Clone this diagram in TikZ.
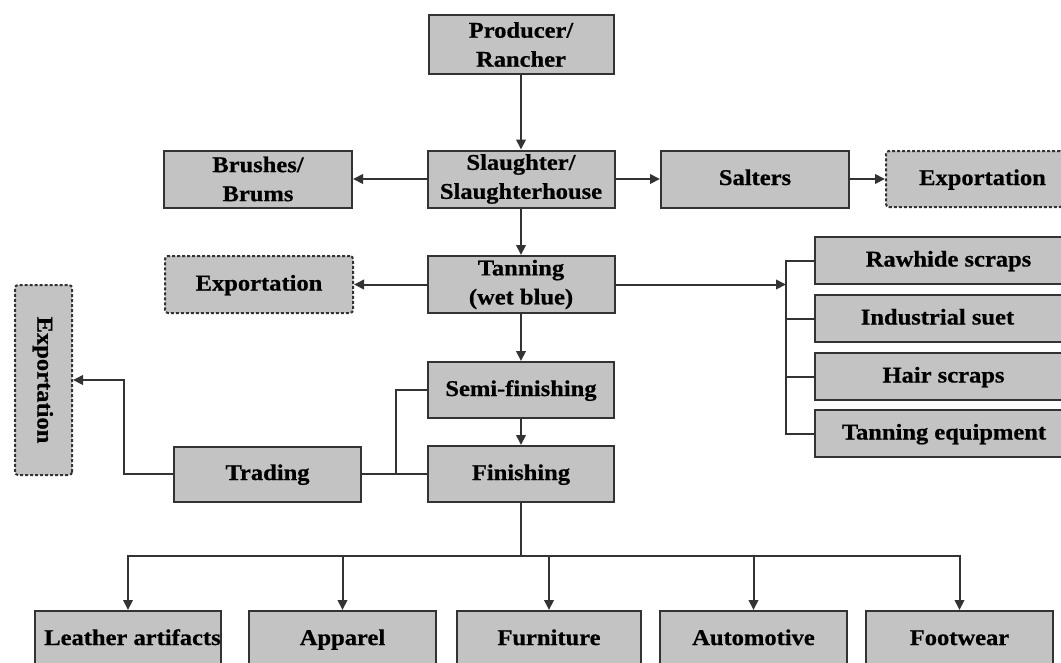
\documentclass[tikz,border=0pt]{standalone}
\usepackage{fontspec}
\setmainfont[FakeStretch=1.09,BoldFeatures={FakeBold=0.6}]{Liberation Serif}
\usetikzlibrary{arrows.meta}
\definecolor{boxfill}{HTML}{C3C3C3}
\definecolor{edge}{HTML}{333333}
\tikzset{
  base/.style={rectangle, fill=boxfill, draw=edge, line width=2pt, inner sep=0pt,
    align=center, font=\fontsize{22.5}{29}\selectfont\bfseries},
  solidbox/.style={base},
  one/.style={text height=17pt, text depth=5pt},
  dashbox/.style={base, dash pattern=on 3pt off 2pt, rounded corners=3pt},
  conn/.style={draw=edge, line width=2pt},
  arr/.style={conn, -{Triangle[length=10pt,width=9.5pt]}},
}
\begin{document}
\begin{tikzpicture}[x=1pt,y=-1pt]
\useasboundingbox (0,0) rectangle (1061,662);
% nodes
\node[solidbox, minimum width=185pt, minimum height=59pt] (prod) at (521,44.5) {Producer/\\Rancher};
\node[solidbox, minimum width=187pt, minimum height=57pt] (slau) at (521,179) {Slaughter/\\Slaughterhouse};
\node[solidbox, minimum width=188pt, minimum height=57pt] (brush) at (258,179) {Brushes/\\Brums};
\node[solidbox, one, minimum width=188pt, minimum height=57pt] (salt) at (755,179) {Salters};
\node[dashbox, one, minimum width=177pt, minimum height=56pt] (expR) at (974.5,179) {\hspace*{16pt}Exportation};
\node[solidbox, minimum width=187pt, minimum height=57pt] (tan) at (521,284.5) {Tanning\\(wet blue)};
\node[dashbox, one, minimum width=188pt, minimum height=57pt] (expL) at (259,284.5) {Exportation};
\node[solidbox, one, minimum width=248pt, minimum height=47pt] (raw) at (939,260.5) {\hspace*{19pt}Rawhide scraps};
\node[solidbox, one, minimum width=248pt, minimum height=47pt] (ind) at (939,318.5) {\hspace*{-3pt}Industrial suet};
\node[solidbox, one, minimum width=248pt, minimum height=47pt] (hair) at (939,376.5) {\hspace*{9pt}Hair scraps};
\node[solidbox, one, minimum width=248pt, minimum height=47pt] (teq) at (939,433.5) {\hspace*{10pt}Tanning equipment};
\node[dashbox, one, minimum width=190pt, minimum height=57pt, rotate=-90] (expV) at (43.5,380) {Exportation};
\node[solidbox, one, minimum width=186pt, minimum height=56pt] (semi) at (521,390) {Semi-finishing};
\node[solidbox, one, minimum width=186pt, minimum height=56pt] (fin) at (521,474) {Finishing};
\node[solidbox, one, minimum width=187pt, minimum height=55pt] (trad) at (267.5,474) {Trading};
\node[solidbox, one, minimum width=186pt, minimum height=56pt] (leather) at (128,639) {\hspace*{9pt}Leather artifacts};
\node[solidbox, one, minimum width=187pt, minimum height=56pt] (app) at (342.5,639) {Apparel};
\node[solidbox, one, minimum width=184pt, minimum height=56pt] (furn) at (549,639) {Furniture};
\node[solidbox, one, minimum width=187pt, minimum height=56pt] (auto) at (753.5,639) {Automotive};
\node[solidbox, one, minimum width=187pt, minimum height=56pt] (foot) at (959.5,639) {Footwear};
% coordinates
\coordinate (bx) at (786,0);
\coordinate (tj) at (396,474);
\coordinate (tk) at (124,380);
\coordinate (bus) at (521,556);
% connectors
\draw[arr] (prod) -- (slau);
\draw[arr] (slau) -- (brush);
\draw[arr] (slau) -- (salt);
\draw[arr] (salt) -- (expR);
\draw[arr] (slau) -- (tan);
\draw[arr] (tan) -- (expL);
\draw[arr] (tan) -- (semi);
\draw[arr] (semi) -- (fin);
\draw[arr] (tan.east) -- (tan.east -| bx);
\draw[conn] (raw.west) -- (raw.west -| bx) -- (teq.west -| bx) -- (teq.west);
\draw[conn] (ind.west) -- (ind.west -| bx);
\draw[conn] (hair.west) -- (hair.west -| bx);
\draw[conn] (trad.east) -- (fin.west);
\draw[conn] (tj) |- (semi.west);
\draw[arr] (trad.west) -| (tk) -- (expV);
\draw[conn] (fin) -- (bus);
\draw[arr] (bus) -| (leather);
\draw[arr] (bus) -| (app);
\draw[arr] (bus) -| (furn);
\draw[arr] (bus) -| (auto);
\draw[arr] (bus) -| (foot);
\end{tikzpicture}
\end{document}
